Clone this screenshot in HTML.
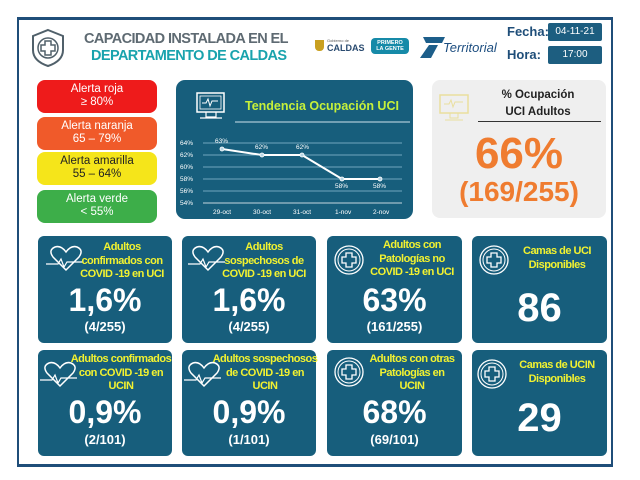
<!DOCTYPE html>
<html><head><meta charset="utf-8"><style>
*{margin:0;padding:0;box-sizing:border-box}
body{width:640px;height:480px;background:#fff;position:relative;font-family:"Liberation Sans",sans-serif;overflow:hidden}
.a{position:absolute}
.frame{left:17px;top:17px;width:596px;height:450px;border:2px solid #1f4e79;border-top-width:3px;border-bottom-width:3px}
.t1{left:84px;top:31px;font-size:14.5px;font-weight:bold;color:#5e6a72;letter-spacing:-0.6px}
.t2{left:91px;top:48px;font-size:14.5px;font-weight:bold;color:#19a3ad;letter-spacing:-0.6px}
.lbl{font-size:13px;font-weight:bold;color:#1f4e79}
.box{background:#1d5e80;color:#fff;font-size:10px;text-align:center;line-height:18px;border-radius:2px}
.al{left:37px;width:120px;height:33px;border-radius:8px;color:#fff;font-size:11.5px;text-align:center;line-height:13px;padding-top:3px}
.tile{background:#175e7c;border-radius:6px;color:#fff;text-align:center}
.tt{position:absolute;color:#f2f230;font-weight:bold;font-size:11px;line-height:13.5px;letter-spacing:-0.5px}
.big{position:absolute;left:0;width:100%;font-weight:bold;font-size:32px;line-height:36px}
.sm{position:absolute;left:0;width:100%;font-weight:bold;font-size:13px}
</style></head><body>
<div class="a frame"></div>
<svg class="a" style="left:30px;top:28px" width="36" height="40" viewBox="0 0 36 40"><path d="M18 2 L33 8 L33 22 Q33 33 18 38 Q3 33 3 22 L3 8 Z" fill="none" stroke="#50606a" stroke-width="2"/><circle cx="18" cy="20" r="10" fill="none" stroke="#50606a" stroke-width="1.5"/><path d="M15 13h6v4h4v6h-4v4h-6v-4h-4v-6h4z" fill="none" stroke="#50606a" stroke-width="1.5"/></svg>
<div class="a t1">CAPACIDAD INSTALADA EN EL</div>
<div class="a t2">DEPARTAMENTO DE CALDAS</div>
<div class="a" style="left:315px;top:40px;width:9px;height:11px;background:#c9a020;border-radius:0 0 4px 4px"></div>
<div class="a" style="left:327px;top:38px;font-size:4px;color:#555">Gobierno de</div>
<div class="a" style="left:327px;top:43px;font-size:9px;font-weight:bold;color:#2a4b70">CALDAS</div>
<div class="a" style="left:371px;top:38px;width:38px;height:16px;background:#168aa8;border-radius:4px;color:#fff;font-size:5.5px;font-weight:bold;text-align:center;line-height:6px;padding-top:2px">PRIMERO<br>LA GENTE</div>
<svg class="a" style="left:417px;top:35px" width="30" height="24"><path d="M6 2h22l-3 6H9z" fill="#1d5e8a"/><path d="M12 10h9l-7 13H3z" fill="#1d5e8a"/></svg>
<div class="a" style="left:443px;top:40px;font-size:13px;font-style:italic;color:#1d4e80">Territorial</div>
<div class="a lbl" style="left:507px;top:24px">Fecha:</div>
<div class="a lbl" style="left:507px;top:47px">Hora:</div>
<div class="a box" style="left:548px;top:23px;width:54px;height:18px">04-11-21</div>
<div class="a box" style="left:548px;top:46px;width:54px;height:18px">17:00</div>

<div class="a al" style="top:80px;background:#ee1b1b">Alerta roja<br>≥ 80%</div>
<div class="a al" style="top:117px;background:#f05a2a">Alerta naranja<br>65 – 79%</div>
<div class="a al" style="top:152px;background:#f5e51a;color:#222">Alerta amarilla<br>55 – 64%</div>
<div class="a al" style="top:190px;background:#3dae49">Alerta verde<br>&lt; 55%</div>

<svg class="a" style="left:176px;top:80px" width="237" height="139" viewBox="176 80 237 139">
<rect x="176" y="80" width="237" height="139" rx="9" fill="#175e7c"/>
<rect x="197" y="93" width="27" height="19" fill="none" stroke="#fff" stroke-width="1.5"/>
<rect x="200" y="96" width="21" height="13" fill="none" stroke="#fff" stroke-width="0.8"/>
<path d="M202 103h4l2-4 2 7 2-5h6" stroke="#fff" fill="none" stroke-width="1"/>
<path d="M206 112v5h10v-5M200 118h22" stroke="#fff" fill="none" stroke-width="1.2"/>
<text x="245" y="110" font-size="12.5" font-weight="bold" fill="#c6f03a" font-family="Liberation Sans">Tendencia Ocupación UCI</text>
<line x1="235" y1="122" x2="410" y2="122" stroke="#cfe3ec" stroke-width="1"/>
<g stroke="#8fc0d4" stroke-width="0.8"><line x1="203" y1="143" x2="402" y2="143"/><line x1="203" y1="155" x2="402" y2="155"/><line x1="203" y1="167" x2="402" y2="167"/><line x1="203" y1="179" x2="402" y2="179"/><line x1="203" y1="191" x2="402" y2="191"/></g>
<line x1="203" y1="203" x2="402" y2="203" stroke="#fff" stroke-width="0.8"/>
<g font-size="6.5" fill="#fff" font-family="Liberation Sans"><text x="180" y="145">64%</text><text x="180" y="157">62%</text><text x="180" y="169">60%</text><text x="180" y="181">58%</text><text x="180" y="193">56%</text><text x="180" y="205">54%</text>
<text x="213" y="214">29-oct</text><text x="253" y="214">30-oct</text><text x="293" y="214">31-oct</text><text x="335" y="214">1-nov</text><text x="373" y="214">2-nov</text>
<text x="215" y="143">63%</text><text x="255" y="149">62%</text><text x="296" y="149">62%</text><text x="335" y="188">58%</text><text x="373" y="188">58%</text></g>
<polyline points="222,149 262,155 302,155 342,179 380,179" fill="none" stroke="#fff" stroke-width="2"/>
<g fill="#b8d6e4" stroke="#fff" stroke-width="0.8"><circle cx="222" cy="149" r="2"/><circle cx="262" cy="155" r="2"/><circle cx="302" cy="155" r="2"/><circle cx="342" cy="179" r="2"/><circle cx="380" cy="179" r="2"/></g>
</svg>

<div class="a" style="left:432px;top:80px;width:174px;height:138px;background:#efefef;border-radius:8px"></div>
<svg class="a" style="left:438px;top:93px" width="34" height="30"><rect x="2" y="2" width="28" height="18" fill="none" stroke="#eadf9e" stroke-width="1.5"/><path d="M6 11h5l2-4 2 7 2-5h8" stroke="#eadf9e" fill="none"/><path d="M12 20v5h8v-5M7 27h18" stroke="#eadf9e" fill="none"/></svg>
<div class="a" style="left:478px;top:87px;width:120px;text-align:center;font-size:11.5px;font-weight:bold;color:#222;line-height:17px">% Ocupación<br>UCI Adultos</div>
<div class="a" style="left:478px;top:121px;width:123px;height:1px;background:#333"></div>
<div class="a" style="left:432px;top:130px;width:174px;text-align:center;font-size:44px;font-weight:bold;color:#ef7c30;line-height:48px">66%</div>
<div class="a" style="left:432px;top:176px;width:174px;text-align:center;font-size:28px;font-weight:bold;color:#ef7c30;line-height:32px">(169/255)</div>

<!-- row 1 -->
<div class="a tile" style="left:38px;top:236px;width:134px;height:107px">
<svg class="a" style="left:8px;top:8px" width="40" height="30"><path d="M20 26 L7 13 Q2 6 9 3 Q15 1 20 8 Q25 1 31 3 Q38 6 33 13 Z" fill="none" stroke="#fff" stroke-width="1.5"/><path d="M0 20h12l3-5 3 8 3-5h16" fill="none" stroke="#fff" stroke-width="1.2"/></svg>
<div class="tt" style="left:34px;top:5px;width:100px">Adultos<br>confirmados con<br>COVID -19 en UCI</div>
<div class="big" style="top:46px">1,6%</div><div class="sm" style="top:83px">(4/255)</div></div>
<div class="a tile" style="left:182px;top:236px;width:134px;height:107px">
<svg class="a" style="left:6px;top:8px" width="40" height="30"><path d="M20 26 L7 13 Q2 6 9 3 Q15 1 20 8 Q25 1 31 3 Q38 6 33 13 Z" fill="none" stroke="#fff" stroke-width="1.5"/><path d="M0 20h12l3-5 3 8 3-5h16" fill="none" stroke="#fff" stroke-width="1.2"/></svg>
<div class="tt" style="left:32px;top:5px;width:100px">Adultos<br>sospechosos de<br>COVID -19 en UCI</div>
<div class="big" style="top:46px">1,6%</div><div class="sm" style="top:83px">(4/255)</div></div>
<div class="a tile" style="left:327px;top:236px;width:135px;height:107px">
<svg class="a" style="left:6px;top:8px" width="32" height="32"><circle cx="16" cy="16" r="14" fill="none" stroke="#fff" stroke-width="1.3"/><circle cx="16" cy="16" r="11" fill="none" stroke="#fff" stroke-width="1"/><path d="M13 9h6v4h4v6h-4v4h-6v-4h-4v-6h4z" fill="none" stroke="#fff" stroke-width="1.3"/></svg>
<div class="tt" style="left:35px;top:3px;width:100px">Adultos con<br>Patologías no<br>COVID -19 en UCI</div>
<div class="big" style="top:46px">63%</div><div class="sm" style="top:83px">(161/255)</div></div>
<div class="a tile" style="left:472px;top:236px;width:135px;height:107px">
<svg class="a" style="left:6px;top:8px" width="32" height="32"><circle cx="16" cy="16" r="14" fill="none" stroke="#fff" stroke-width="1.3"/><circle cx="16" cy="16" r="11" fill="none" stroke="#fff" stroke-width="1"/><path d="M13 9h6v4h4v6h-4v4h-6v-4h-4v-6h4z" fill="none" stroke="#fff" stroke-width="1.3"/></svg>
<div class="tt" style="left:35px;top:9px;width:100px">Camas de UCI<br>Disponibles</div>
<div class="big" style="top:50px;font-size:40px;line-height:44px">86</div></div>

<!-- row 2 -->
<div class="a tile" style="left:38px;top:350px;width:134px;height:106px">
<svg class="a" style="left:2px;top:10px" width="40" height="30"><path d="M20 26 L7 13 Q2 6 9 3 Q15 1 20 8 Q25 1 31 3 Q38 6 33 13 Z" fill="none" stroke="#fff" stroke-width="1.5"/><path d="M0 20h12l3-5 3 8 3-5h16" fill="none" stroke="#fff" stroke-width="1.2"/></svg>
<div class="tt" style="left:30px;top:3px;width:106px">Adultos confirmados<br>con COVID -19 en<br>UCIN</div>
<div class="big" style="top:44px">0,9%</div><div class="sm" style="top:82px">(2/101)</div></div>
<div class="a tile" style="left:182px;top:350px;width:134px;height:106px">
<svg class="a" style="left:2px;top:10px" width="40" height="30"><path d="M20 26 L7 13 Q2 6 9 3 Q15 1 20 8 Q25 1 31 3 Q38 6 33 13 Z" fill="none" stroke="#fff" stroke-width="1.5"/><path d="M0 20h12l3-5 3 8 3-5h16" fill="none" stroke="#fff" stroke-width="1.2"/></svg>
<div class="tt" style="left:30px;top:3px;width:106px">Adultos sospechosos<br>de COVID -19 en<br>UCIN</div>
<div class="big" style="top:44px">0,9%</div><div class="sm" style="top:82px">(1/101)</div></div>
<div class="a tile" style="left:327px;top:350px;width:135px;height:106px">
<svg class="a" style="left:6px;top:6px" width="32" height="32"><circle cx="16" cy="16" r="14" fill="none" stroke="#fff" stroke-width="1.3"/><circle cx="16" cy="16" r="11" fill="none" stroke="#fff" stroke-width="1"/><path d="M13 9h6v4h4v6h-4v4h-6v-4h-4v-6h4z" fill="none" stroke="#fff" stroke-width="1.3"/></svg>
<div class="tt" style="left:35px;top:3px;width:100px">Adultos con otras<br>Patologías en<br>UCIN</div>
<div class="big" style="top:44px">68%</div><div class="sm" style="top:82px">(69/101)</div></div>
<div class="a tile" style="left:472px;top:350px;width:135px;height:106px">
<svg class="a" style="left:4px;top:8px" width="32" height="32"><circle cx="16" cy="16" r="14" fill="none" stroke="#fff" stroke-width="1.3"/><circle cx="16" cy="16" r="11" fill="none" stroke="#fff" stroke-width="1"/><path d="M13 9h6v4h4v6h-4v4h-6v-4h-4v-6h4z" fill="none" stroke="#fff" stroke-width="1.3"/></svg>
<div class="tt" style="left:33px;top:9px;width:104px">Camas de UCIN<br>Disponibles</div>
<div class="big" style="top:46px;font-size:40px;line-height:44px">29</div></div>
</body></html>
